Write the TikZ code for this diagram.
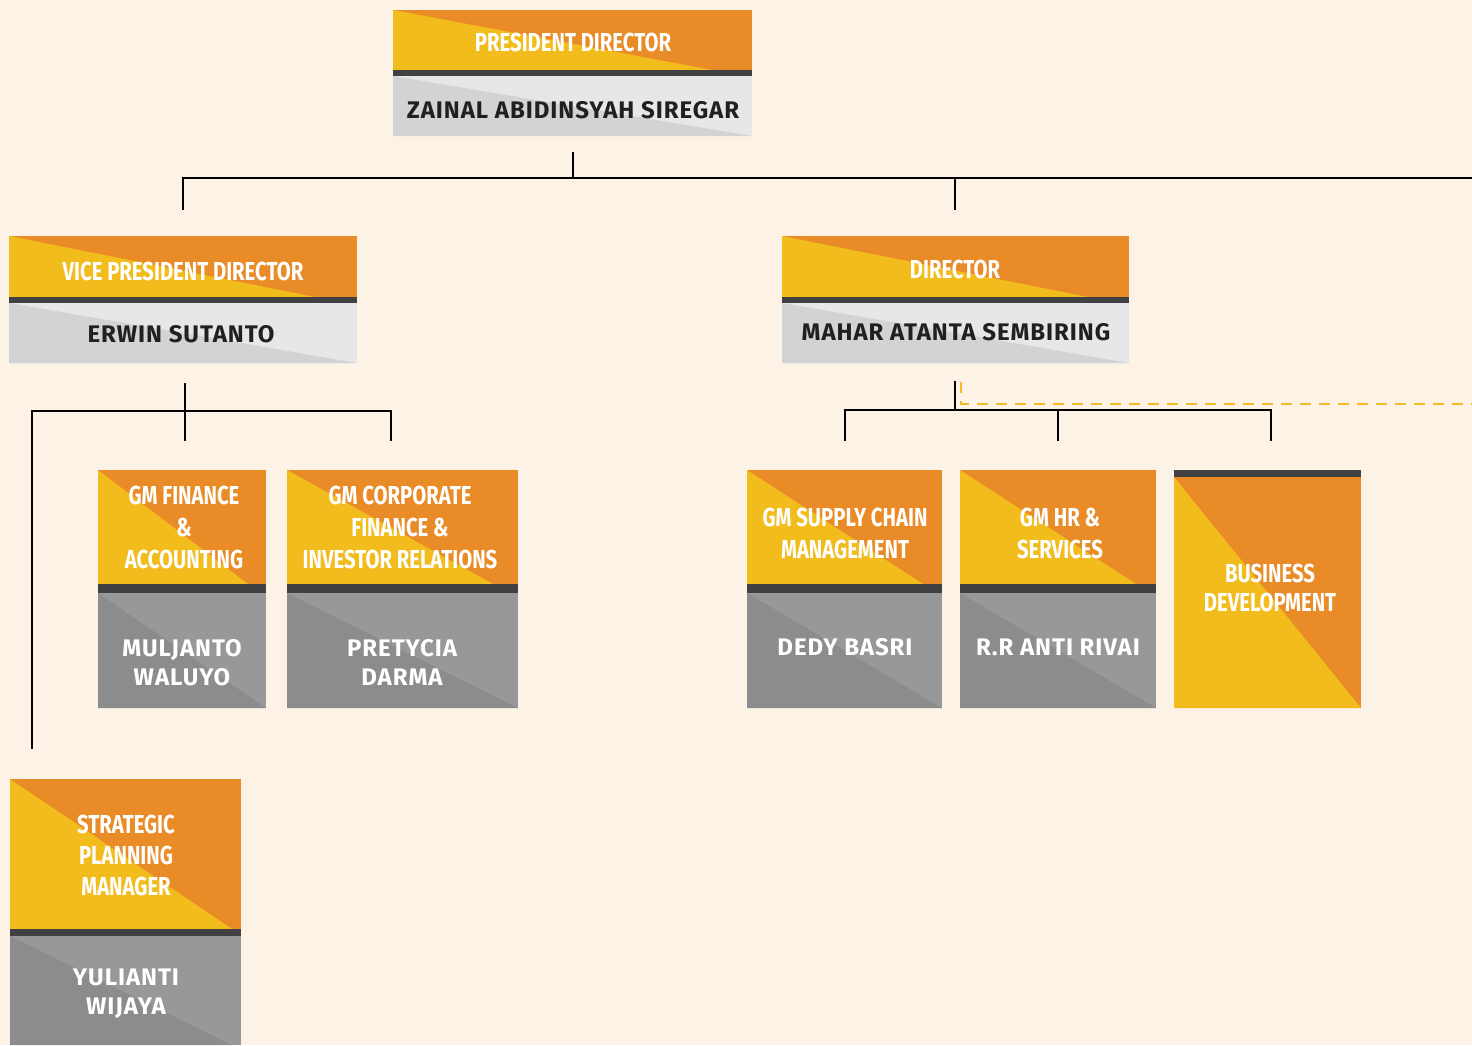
\documentclass[tikz,border=0pt]{standalone}
\usepackage{fontspec}
\setmainfont{Fira Sans}
\newfontfamily\titlefont[FakeStretch=0.78]{Fira Sans}
\newfontfamily\namefont[LetterSpace=4]{Fira Sans}
\definecolor{bg}{HTML}{FDF2E6}
\definecolor{org}{HTML}{E98C28}
\definecolor{yel}{HTML}{F2BC1C}
\definecolor{barc}{HTML}{414042}
\definecolor{lgA}{HTML}{E6E7E8}
\definecolor{lgB}{HTML}{D1D3D4}
\definecolor{dgA}{HTML}{97989A}
\definecolor{dgB}{HTML}{8A8C8E}
\definecolor{ink}{HTML}{231F20}
\definecolor{dashc}{HTML}{F5B92A}
% #1 x1, #2 y1, #3 xd (diagonal end), #4 y bar top, #5 x2, #6 y bar bottom, #7 y2, #8 light, #9 dark
\newcommand\orgcard[9]{%
  \fill[org] (#1,#2) rectangle (#5,#4);
  \fill[yel] (#1,#2) -- (#3,#4) -- (#1,#4) -- cycle;
  \fill[barc] (#1,#4) rectangle (#5,#6);
  \fill[#8] (#1,#6) rectangle (#5,#7);
  \fill[#9] (#1,#6) -- (#5,#7) -- (#1,#7) -- cycle;
}
\tikzset{
  ttl/.style={font=\titlefont\bfseries\fontsize{26}{32}\selectfont, text=white, align=center, inner sep=0pt},
  nmdark/.style={font=\namefont\bfseries\fontsize{24}{29}\selectfont, text=ink, align=center, inner sep=0pt},
  nmlight/.style={font=\namefont\bfseries\fontsize{24}{29}\selectfont, text=white, align=center, inner sep=0pt},
  conn/.style={draw=black, line width=2.8pt},
  dsh/.style={draw=dashc, line width=2.6pt, dash pattern=on 11pt off 8pt},
}
\begin{document}
\begin{tikzpicture}[x=1pt,y=-1pt]
\useasboundingbox (0,0) rectangle (1472,1045);
\fill[bg] (0,0) rectangle (1472,1045);

% cards
\orgcard{393}{10}{712}{70}{752}{76}{136}{lgA}{lgB}
\orgcard{9}{236}{315}{297}{357}{303}{363}{lgA}{lgB}
\orgcard{782}{236}{1088}{297}{1129}{303}{363}{lgA}{lgB}
\orgcard{98}{470}{248}{584}{266}{593}{708}{dgA}{dgB}
\orgcard{287}{470}{493}{584}{518}{593}{708}{dgA}{dgB}
\orgcard{747}{470}{923}{584}{942}{593}{708}{dgA}{dgB}
\orgcard{960}{470}{1136}{584}{1156}{593}{708}{dgA}{dgB}
% business development
\fill[org] (1174,477) rectangle (1361,708);
\fill[yel] (1174,477) -- (1361,708) -- (1174,708) -- cycle;
\fill[barc] (1174,470) rectangle (1361,477);
% strategic planning
\fill[org] (10,779) rectangle (241,929);
\fill[yel] (10,779) -- (232,929) -- (10,929) -- cycle;
\fill[barc] (10,929) rectangle (241,936);
\fill[dgA] (10,936) rectangle (241,1045);
\fill[dgB] (10,936) -- (232,1045) -- (10,1045) -- cycle;

% texts
\node[ttl] (pres-t) at (573,42.5) {PRESIDENT DIRECTOR};
\node[nmdark] (pres-n) at (573,110) {ZAINAL ABIDINSYAH SIREGAR};
\node[ttl] (vp-t) at (183,271) {VICE PRESIDENT DIRECTOR};
\node[nmdark] (vp-n) at (181,334) {ERWIN SUTANTO};
\node[ttl] (dir-t) at (955,269.5) {DIRECTOR};
\node[nmdark] (dir-n) at (956,332.5) {MAHAR ATANTA SEMBIRING};
\node[ttl] (fin-t) at (184,527.5) {GM FINANCE\\\&\\ACCOUNTING};
\node[nmlight] (fin-n) at (182,662.5) {MULJANTO\\WALUYO};
\node[ttl] (corp-t) at (400,527.5) {GM CORPORATE\\FINANCE \&\\INVESTOR RELATIONS};
\node[nmlight] (corp-n) at (402,662.5) {PRETYCIA\\DARMA};
\node[ttl] (sup-t) at (845,533) {GM SUPPLY CHAIN\\MANAGEMENT};
\node[nmlight] (sup-n) at (845,647.5) {DEDY BASRI};
\node[ttl] (hr-t) at (1060,533) {GM HR \&\\SERVICES};
\node[nmlight] (hr-n) at (1058,647.5) {R.R ANTI RIVAI};
\node[ttl, font=\titlefont\bfseries\fontsize{26}{29}\selectfont] (bd-t) at (1270,587.5) {BUSINESS\\DEVELOPMENT};
\node[ttl, font=\titlefont\bfseries\fontsize{26}{31}\selectfont] (st-t) at (126,855) {STRATEGIC\\PLANNING\\MANAGER};
\node[nmlight] (st-n) at (126,994) {YULIANTI\\WIJAYA};

% connector anchor points
\coordinate (presB) at (573,152);
\coordinate (busL) at (183,178);
\coordinate (busR) at (1472,178);
\coordinate (vpT) at (183,210);
\coordinate (dirT) at (955,210);
\coordinate (vpB) at (185,383);
\coordinate (finT) at (185,441);
\coordinate (corpC) at (391,411);
\coordinate (corpT) at (391,441);
\coordinate (stT) at (32,749);
\coordinate (dirB) at (955,381);
\coordinate (supT) at (845,441);
\coordinate (hrT) at (1058,441);
\coordinate (bdC) at (1271,410);
\coordinate (bdT) at (1271,441);
\coordinate (dshS) at (961,382);
\coordinate (dshE) at (1472,404);

\draw[conn] (presB) -- (presB |- busL);
\draw[conn] (vpT) |- (busR);
\draw[conn] (dirT) -- (dirT |- busL);
\draw[conn] (vpB) -- (finT);
\draw[conn] (stT) |- (corpC) -- (corpT);
\draw[conn] (dirB) -- (dirB |- bdC);
\draw[conn] (supT) |- (bdC) -- (bdT);
\draw[conn] (hrT) -- (hrT |- bdC);
\draw[dsh] (dshS) |- (dshE);
\end{tikzpicture}
\end{document}
